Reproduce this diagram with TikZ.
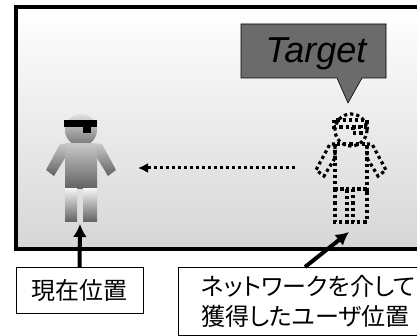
\documentclass[tikz,border=0pt]{standalone}
\usepackage{fontspec}
\setsansfont{Liberation Sans}
\newfontfamily\jp[RawFeature=+palt]{Noto Sans CJK JP}
\usetikzlibrary{arrows.meta}

\tikzset{
    % one walker, solid or only dotted outlines
    pics/person/.style={code={
        \path[#1 head] (0,130) circle (16);
        \path[#1 body] (-16,144) rectangle (16,189);
        \path[#1 body] (-16,144) -- (-21,144) -- (-35,170) -- (-27,176) -- (-16,158) -- cycle;
        \path[#1 body] (16,144) -- (21,144) -- (35,170) -- (27,176) -- (16,158) -- cycle;
        \path[#1 leg] (-16,189) rectangle (-4,222);
        \path[#1 leg] (2,189) rectangle (16,222);
        \path[#1 visor] (-17,120) rectangle (16,127);
        \path[#1 visor] (2,127) rectangle (10,133);
    }},
    solid head/.style={top color=black!12, bottom color=black!55},
    solid body/.style={top color=black!22, bottom color=black!62},
    solid leg/.style={top color=black!5, bottom color=black!62},
    solid visor/.style={fill=black},
    dotline/.style={draw=black, line width=3.2pt, dash pattern=on 3.2pt off 3pt},
    ghost head/.style={dotline},
    ghost body/.style={dotline},
    ghost leg/.style={dotline},
    ghost visor/.style={dotline}
}

\begin{document}
\begin{tikzpicture}[
        x=1pt, y=-1pt,
        frame/.style={line width=4pt, top color=white, bottom color=black!16},
        tag/.style={draw, line width=1pt, fill=white, font=\jp\fontsize{24}{30}\selectfont},
        bigarrow/.style={-{Latex[length=13pt,width=14pt]}, line width=4pt},
        dotarrow/.style={-{Latex[length=10pt,width=10pt]}, line width=3pt, dash pattern=on 3pt off 3pt}
    ]
    \useasboundingbox (0,0) rectangle (417,336);

    \path[frame, draw] (16,7) rectangle (440,249);

    % the two walkers
    \pic at (81,0) {person=solid};
    \pic at (351,0) {person=ghost};
    \coordinate (meFoot) at (80,224);
    \coordinate (meMid) at (138,168);
    \coordinate (tgtFoot) at (349,232);
    \coordinate (tgtMid) at (295,168);

    % speech bubble
    \path[draw, fill=black!58, line width=0.6pt] (241,24) -- (386,24) -- (386,78) -- (362,78)
        -- (348,103) -- (337,78) -- (241,78) -- cycle;
    \node[font=\sffamily\itshape\fontsize{36}{36}\selectfont, anchor=base] (tgt) at (316,63) {Target};

    % labels
    \node[tag, minimum width=127pt, minimum height=45pt] (here) at (79.5,290.5) {現在位置};
    \node[tag, anchor=north west, align=left, inner xsep=13pt, inner ysep=8pt, minimum width=260pt] (net) at (178,267)
        {ネットワークを介して\\獲得したユーザ位置};
    \coordinate (netTop) at (305,267);

    \draw[dotarrow] (tgtMid) -- (meMid);
    \draw[bigarrow] (here.north) -- (meFoot);
    \draw[bigarrow] (netTop) -- (tgtFoot);
\end{tikzpicture}
\end{document}
